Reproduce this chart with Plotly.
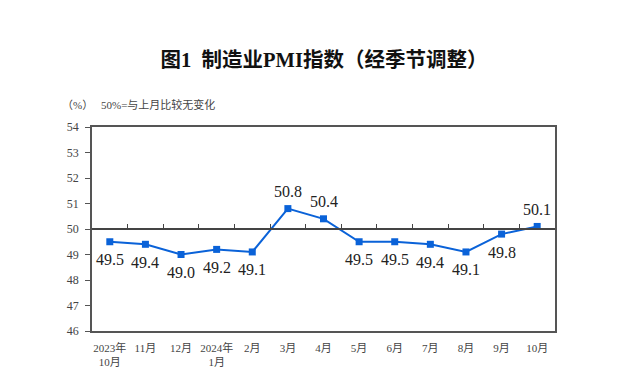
import plotly.graph_objects as go

categories = ["2023年<br>10月", "11月", "12月", "2024年<br>1月", "2月", "3月", "4月",
              "5月", "6月", "7月", "8月", "9月", "10月"]
pmi = [49.5, 49.4, 49.0, 49.2, 49.1, 50.8, 50.4, 49.5, 49.5, 49.4, 49.1, 49.8, 50.1]
label_above = [False] * 5 + [True, True] + [False] * 5 + [True]
y_ticks = [46, 47, 48, 49, 50, 51, 52, 53, 54]

xs = list(range(len(categories)))
serif = "Liberation Serif, Noto Sans CJK SC"

# page body has an 8px margin: compensate
OFF = 8
W, H = 640 - OFF, 391 - OFF
L, R, T, B = 92 - OFF, 85, 127 - OFF, 60

fig = go.Figure()
fig.add_trace(go.Scatter(
    x=xs, y=pmi, mode="lines+markers",
    line=dict(color="#0a62d8", width=2),
    marker=dict(symbol="square", size=7, color="#0a62d8"),
    cliponaxis=False, showlegend=False,
))
fig.add_trace(go.Scatter(x=[0], y=[50], xaxis="x2", mode="markers",
                         marker=dict(opacity=0), showlegend=False, hoverinfo="skip"))

anns = []
for x, v, up in zip(xs, pmi, label_above):
    anns.append(dict(x=x, y=v, text=f"{v:.1f}", showarrow=False,
                     yshift=17 if up else -18, xanchor="center", yanchor="middle",
                     font=dict(family=serif, size=16, color="#222222")))

pw, ph = W - L - R, H - T - B
def px2paper(px, py):
    return (px - OFF - L) / pw, (391 - B - py) / ph

for txt, px, py in [("（%）", 77, 105), ("50%=与上月比较无变化", 158, 105)]:
    ax, ay = px2paper(px, py)
    anns.append(dict(text=txt, x=ax, y=ay, xref="paper", yref="paper", showarrow=False,
                     xanchor="center", yanchor="middle",
                     font=dict(family=serif, size=11, color="#444444")))

fig.update_layout(
    width=W, height=H,
    margin=dict(l=L, r=R, t=T, b=B),
    paper_bgcolor="white", plot_bgcolor="white",
    title=dict(text="图1  制造业PMI指数（经季节调整）", x=0.5, xanchor="center",
               y=1 - (60 - OFF) / H, yanchor="middle",
               font=dict(family=serif, size=20.5, color="#111111", weight="bold")),
    xaxis=dict(range=[-0.5, 12.5], tickvals=xs, ticktext=categories, showgrid=False,
               zeroline=False, showline=True, linecolor="#555555", linewidth=1.5, mirror=True,
               ticks="", ticklabelstandoff=6,
               tickfont=dict(family=serif, size=11, color="#444444")),
    xaxis2=dict(overlaying="x", anchor="free", position=0.5, side="top",
                range=[-0.5, 12.5], tickvals=[i + 0.5 for i in range(12)],
                showticklabels=False, ticks="outside", ticklen=4, tickcolor="#444444",
                showline=True, linecolor="#444444", linewidth=1.5, showgrid=False, zeroline=False),
    yaxis=dict(range=[46, 54], tickvals=y_ticks, showgrid=False, zeroline=False,
               showline=True, linecolor="#555555", linewidth=1.5, mirror=True,
               ticks="outside", ticklen=5, tickcolor="#555555", ticklabelstandoff=4,
               tickfont=dict(family=serif, size=12, color="#444444")),
    annotations=anns,
)

fig.write_html("out.html")
